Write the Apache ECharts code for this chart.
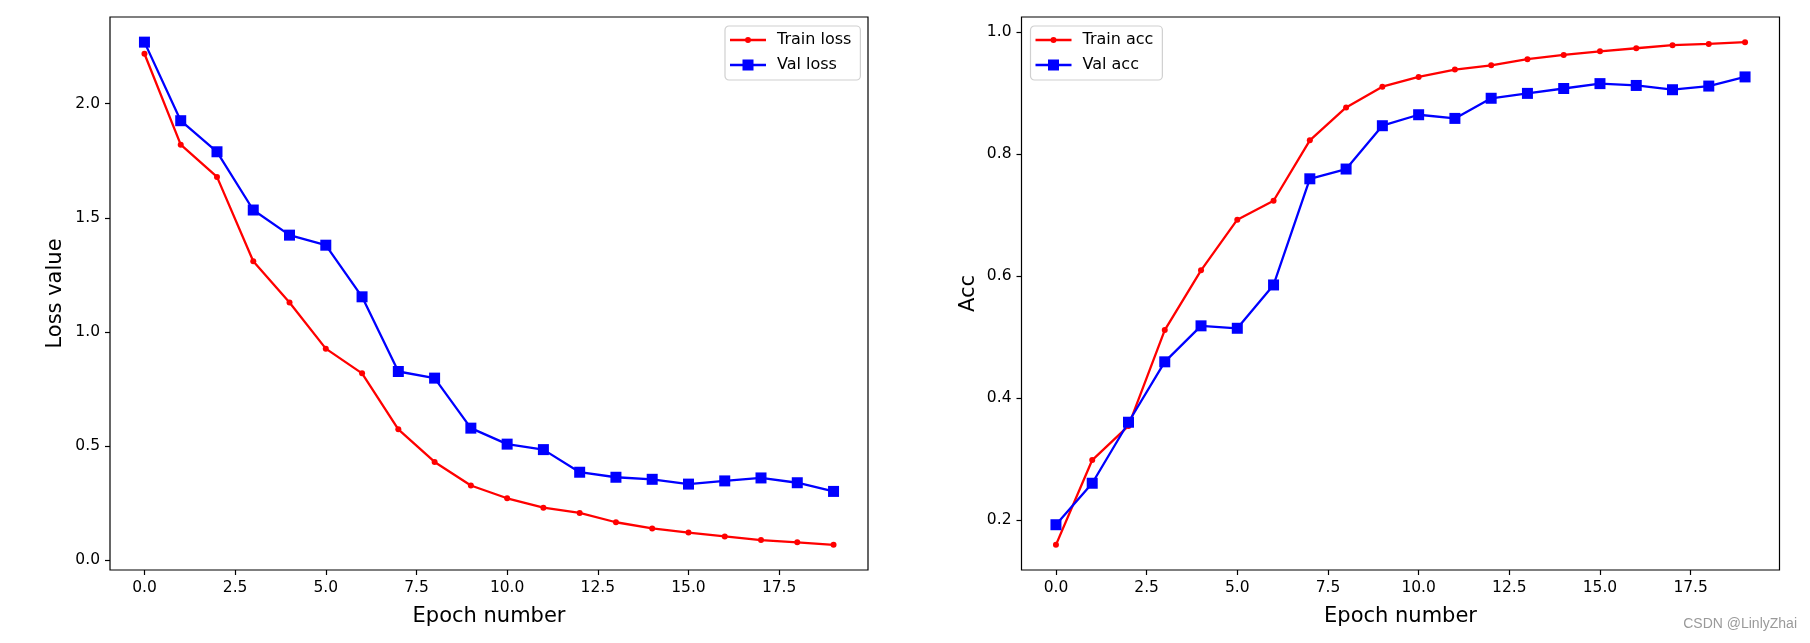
<!DOCTYPE html>
<html>
<head>
<meta charset="utf-8">
<script src="https://cdn.jsdelivr.net/npm/echarts@6/dist/echarts.min.js"></script>
<style>
html,body{margin:0;padding:0;background:#fff;}
#chart{width:1810px;height:643px;}
</style>
</head>
<body>
<div id="chart"></div>
<script>
// ---- data ----
const epochs = [0,1,2,3,4,5,6,7,8,9,10,11,12,13,14,15,16,17,18,19];
const trainLoss = [2.218,1.820,1.679,1.310,1.129,0.927,0.819,0.574,0.431,0.328,0.272,0.231,0.208,0.167,0.140,0.122,0.105,0.089,0.079,0.068];
const valLoss   = [2.269,1.925,1.789,1.534,1.424,1.380,1.154,0.827,0.798,0.579,0.509,0.485,0.386,0.364,0.355,0.334,0.348,0.361,0.340,0.302];
const trainAcc  = [0.159,0.298,0.354,0.511,0.609,0.692,0.723,0.822,0.876,0.910,0.926,0.938,0.945,0.955,0.962,0.968,0.973,0.978,0.980,0.983];
const valAcc    = [0.192,0.260,0.360,0.459,0.518,0.514,0.585,0.759,0.775,0.846,0.864,0.858,0.891,0.899,0.907,0.915,0.912,0.905,0.911,0.926];
const xTicks    = [0,2.5,5,7.5,10,12.5,15,17.5];
const lossTicks = [0,0.5,1.0,1.5,2.0];
const accTicks  = [0.2,0.4,0.6,0.8,1.0];

// matplotlib-style 5% margins
function lim(arrs){
  const all = [].concat(...arrs);
  const mn = Math.min(...all), mx = Math.max(...all);
  const m = (mx - mn) * 0.05;
  return [mn - m, mx + m];
}
const xLim = lim([epochs]);
const lossLim = lim([trainLoss, valLoss]);
const accLim = lim([trainAcc, valAcc]);
const pairs = (ys) => epochs.map((e,i)=>[e, ys[i]]);

const FONT = 'DejaVu Sans';
const TICK_FS = 15.5;
const LEG_FS = 16;
const fmt = v => Number(v).toFixed(1);

function xAxis(gi){
  return {
    type:'value', gridIndex: gi, min: xLim[0], max: xLim[1],
    name:'Epoch number', nameLocation:'middle', nameGap: 36.5,
    nameTextStyle:{fontFamily:FONT, fontSize:21, color:'#000'},
    axisLine:{show:false, onZero:false},
    axisTick:{show:true, inside:false, length:5, customValues: xTicks, lineStyle:{color:'#000', width:1.2}},
    axisLabel:{show:true, margin:10, customValues: xTicks, formatter: fmt, fontFamily:FONT, fontSize:TICK_FS, color:'#000'},
    splitLine:{show:false}
  };
}
function yAxis(gi, l, ticks, name, gap){
  return {
    type:'value', gridIndex: gi, min: l[0], max: l[1],
    name: name, nameLocation:'middle', nameGap: gap,
    nameTextStyle:{fontFamily:FONT, fontSize:21, color:'#000'},
    axisLine:{show:false, onZero:false},
    axisTick:{show:true, inside:false, length:5, customValues: ticks, lineStyle:{color:'#000', width:1.2}},
    axisLabel:{show:true, margin:10, customValues: ticks, formatter: fmt, fontFamily:FONT, fontSize:TICK_FS, color:'#000'},
    splitLine:{show:false}
  };
}
function series(name, gi, ys, color, symbol, size){
  return {
    name, type:'line', xAxisIndex: gi, yAxisIndex: gi, data: pairs(ys),
    symbol, symbolSize: size, showSymbol:true, showAllSymbol:true,
    lineStyle:{color, width:2.3},
    itemStyle:{color, borderWidth:0},
    emphasis:{disabled:true}, animation:false
  };
}
const dotIcon = 'path://M0 0M36 12M0 4.85H36V7.15H0ZM21 6A3 3 0 1 1 15 6A3 3 0 1 1 21 6Z';
const sqIcon  = 'path://M0 0M36 12M0 4.85H36V7.15H0ZM12.5 0.5H23.5V11.5H12.5Z';

function legend(names, left){
  return {
    orient:'vertical', left: left, top: 26,
    data:[{name:names[0], icon: dotIcon},{name:names[1], icon: sqIcon}],
    itemWidth:36, itemHeight:12, itemGap:7,
    symbolKeepAspect:true,
    itemStyle:{borderWidth:0},
    padding:[5,9,6,5],
    borderColor:'#d0d0d0', borderWidth:1.2, borderRadius:4,
    backgroundColor:'rgba(255,255,255,0.8)',
    textStyle:{fontFamily:FONT, fontSize:LEG_FS, color:'#000', lineHeight:18, padding:[0,0,0,6]},
    selectedMode:false
  };
}

const chart = echarts.init(document.getElementById('chart'), null, {renderer:'canvas'});
chart.setOption({
  animation:false,
  backgroundColor:'#fff',
  grid:[
    {left:110, top:17, width:758, height:553, show:true, borderColor:'#000', borderWidth:1.2, backgroundColor:'transparent'},
    {left:1021.5, top:17, width:758, height:553, show:true, borderColor:'#000', borderWidth:1.2, backgroundColor:'transparent'}
  ],
  xAxis:[xAxis(0), xAxis(1)],
  yAxis:[yAxis(0, lossLim, lossTicks, 'Loss value', 44), yAxis(1, accLim, accTicks, 'Acc', 42)],
  legend:[legend(['Train loss','Val loss'], 725), legend(['Train acc','Val acc'], 1030.5)],
  series:[
    series('Train loss', 0, trainLoss, '#ff0000', 'circle', 6),
    series('Val loss', 0, valLoss, '#0000ff', 'rect', 11),
    series('Train acc', 1, trainAcc, '#ff0000', 'circle', 6),
    series('Val acc', 1, valAcc, '#0000ff', 'rect', 11)
  ],
  graphic:[{
    type:'text', right:13, top:617,
    style:{text:'CSDN @LinlyZhai', fontSize:14, fill:'#9a9a9a', fontFamily:'Liberation Sans'}
  }]
});
</script>
</body>
</html>
